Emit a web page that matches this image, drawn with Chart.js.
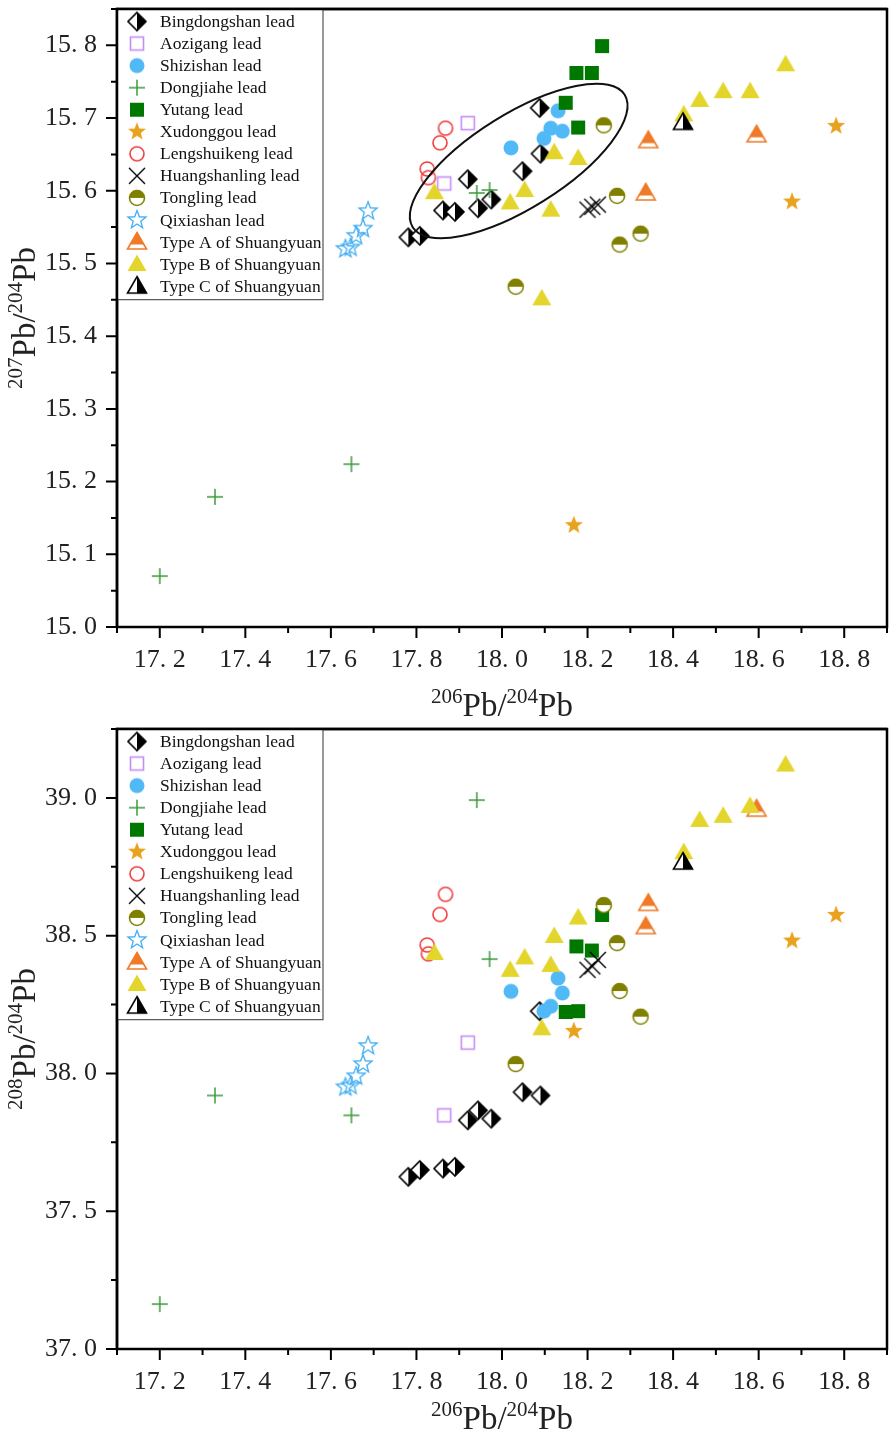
<!DOCTYPE html>
<html>
<head>
<meta charset="utf-8">
<title>Pb isotope diagrams</title>
<script src="https://cdn.jsdelivr.net/npm/chart.js@4/dist/chart.umd.min.js"></script>
<style>
    html, body { margin: 0; padding: 0; background: #fff; }
    .panel { position: absolute; left: 0; }
</style>
</head>
<body>
<div class="panel" style="top:0"><canvas id="chart207" width="896" height="720"></canvas></div>
<div class="panel" style="top:720px"><canvas id="chart208" width="896" height="724"></canvas></div>
<script>
// ---- data: 206Pb/204Pb, 207Pb/204Pb, 208Pb/204Pb for each deposit ----
const bingdongshan206 = [17.781, 17.808, 17.862, 17.890, 17.920, 17.944, 17.975, 18.048, 18.090, 18.088];
const bingdongshan207 = [15.536, 15.538, 15.573, 15.571, 15.616, 15.576, 15.588, 15.627, 15.651, 15.714];
const bingdongshan208 = [37.625, 37.650, 37.655, 37.661, 37.830, 37.866, 37.836, 37.932, 37.920, 38.226];

const aozigang206 = [17.920, 17.865];
const aozigang207 = [15.693, 15.610];
const aozigang208 = [38.112, 37.848];

const shizishan206 = [18.131, 18.141, 18.114, 18.098, 18.021];
const shizishan207 = [15.710, 15.682, 15.686, 15.672, 15.659];
const shizishan208 = [38.346, 38.292, 38.244, 38.226, 38.298];

const dongjiahe206 = [17.200, 17.329, 17.648, 17.941, 17.971];
const dongjiahe207 = [15.070, 15.179, 15.224, 15.597, 15.601];
const dongjiahe208 = [37.163, 37.920, 37.848, 38.992, 38.415];

const yutang206 = [18.234, 18.174, 18.210, 18.149, 18.178];
const yutang207 = [15.799, 15.762, 15.762, 15.721, 15.687];
const yutang208 = [38.575, 38.461, 38.446, 38.223, 38.226];

const xudonggou206 = [18.168, 18.781, 18.678];
const xudonggou207 = [15.140, 15.689, 15.585];
const xudonggou208 = [38.154, 38.575, 38.482];

const lengshuikeng206 = [17.868, 17.855, 17.825, 17.828];
const lengshuikeng207 = [15.686, 15.666, 15.630, 15.618];
const lengshuikeng208 = [38.650, 38.577, 38.466, 38.434];

const huangshanling206 = [18.200, 18.211, 18.224];
const huangshanling207 = [15.574, 15.578, 15.581];
const huangshanling208 = [38.376, 38.389, 38.412];

const tongling206 = [18.032, 18.238, 18.269, 18.275, 18.324];
const tongling207 = [15.468, 15.690, 15.593, 15.526, 15.541];
const tongling208 = [38.034, 38.611, 38.473, 38.299, 38.206];

const qixiashan206 = [17.687, 17.675, 17.659, 17.646, 17.634];
const qixiashan207 = [15.572, 15.548, 15.538, 15.522, 15.520];
const qixiashan208 = [38.100, 38.034, 37.990, 37.956, 37.950];

const typeA206 = [18.342, 18.336, 18.595];
const typeA207 = [15.669, 15.597, 15.677];
const typeA208 = [38.617, 38.533, 38.959];

const typeB206 = [17.842, 18.019, 18.053, 18.114, 18.122, 18.178, 18.093, 18.425, 18.462, 18.517, 18.580, 18.663];
const typeB207 = [15.598, 15.584, 15.601, 15.574, 15.653, 15.645, 15.452, 15.705, 15.725, 15.737, 15.737, 15.774];
const typeB208 = [38.437, 38.376, 38.421, 38.394, 38.499, 38.566, 38.164, 38.803, 38.920, 38.935, 38.971, 39.121];

const typeC206 = [18.423];
const typeC207 = [15.694];
const typeC208 = [38.767];

// axis ranges and tick labels
const xRange = [17.1, 18.9];
const xTickValues = [17.2, 17.4, 17.6, 17.8, 18.0, 18.2, 18.4, 18.6, 18.8];
const y207Range = [15.0, 15.85];
const y207TickValues = [15.0, 15.1, 15.2, 15.3, 15.4, 15.5, 15.6, 15.7, 15.8];
const y208Range = [37.0, 39.25];
const y208TickValues = [37.0, 37.5, 38.0, 38.5, 39.0];

// ---- marker images ----
function markerCanvas(draw) {
    const c = document.createElement('canvas');
    c.width = 26; c.height = 26;
    const g = c.getContext('2d');
    g.translate(13, 13);
    g.lineJoin = 'miter';
    draw(g);
    return c;
}

function starPath(g, R, r) {
    g.beginPath();
    for (let i = 0; i < 10; i++) {
        const a = -Math.PI / 2 + i * Math.PI / 5;
        const rad = i % 2 === 0 ? R : r;
        g.lineTo(Math.cos(a) * rad, Math.sin(a) * rad);
    }
    g.closePath();
}

function triPath(g) {
    g.beginPath();
    g.moveTo(0, -9.5);
    g.lineTo(9.5, 7);
    g.lineTo(-9.5, 7);
    g.closePath();
}

const markers = {
    halfDiamond: markerCanvas(g => {
        g.beginPath();
        g.moveTo(0, -9); g.lineTo(9, 0); g.lineTo(0, 9); g.lineTo(-9, 0); g.closePath();
        g.fillStyle = '#fff'; g.fill();
        g.save(); g.clip(); g.fillStyle = '#000'; g.fillRect(0, -10, 10, 20); g.restore();
        g.strokeStyle = '#000'; g.lineWidth = 1.6; g.stroke();
    }),
    openSquare: markerCanvas(g => {
        g.strokeStyle = '#c48cf8'; g.lineWidth = 1.6;
        g.strokeRect(-6.5, -6.5, 13, 13);
    }),
    dot: markerCanvas(g => {
        g.beginPath(); g.arc(0, 0, 7.5, 0, Math.PI * 2);
        g.fillStyle = '#50b9f6'; g.fill();
    }),
    plus: markerCanvas(g => {
        g.strokeStyle = '#3c9a3c'; g.lineWidth = 1.5;
        g.beginPath(); g.moveTo(-8, 0); g.lineTo(8, 0); g.moveTo(0, -8); g.lineTo(0, 8); g.stroke();
    }),
    square: markerCanvas(g => {
        g.fillStyle = '#007800';
        g.fillRect(-7, -7, 14, 14);
    }),
    star: markerCanvas(g => {
        starPath(g, 9.5, 4);
        g.fillStyle = '#e8a21e'; g.fill();
    }),
    openCircle: markerCanvas(g => {
        g.beginPath(); g.arc(0, 0, 7, 0, Math.PI * 2);
        g.strokeStyle = '#f03c3c'; g.lineWidth = 1.6; g.stroke();
    }),
    cross: markerCanvas(g => {
        g.strokeStyle = '#000'; g.lineWidth = 1.4;
        g.beginPath(); g.moveTo(-8, -8); g.lineTo(8, 8); g.moveTo(8, -8); g.lineTo(-8, 8); g.stroke();
    }),
    halfCircle: markerCanvas(g => {
        g.beginPath(); g.arc(0, 0, 7.5, 0, Math.PI * 2);
        g.fillStyle = '#fff'; g.fill();
        g.beginPath(); g.arc(0, 0, 7.5, Math.PI, 0); g.closePath();
        g.fillStyle = '#808000'; g.fill();
        g.beginPath(); g.arc(0, 0, 7.5, 0, Math.PI * 2);
        g.strokeStyle = '#808000'; g.lineWidth = 1.6; g.stroke();
    }),
    openStar: markerCanvas(g => {
        starPath(g, 9.5, 4);
        g.strokeStyle = '#42aef2'; g.lineWidth = 1.3; g.stroke();
    }),
    triA: markerCanvas(g => {
        triPath(g);
        g.fillStyle = '#fff'; g.fill();
        g.save(); g.clip(); g.fillStyle = '#f07a28'; g.fillRect(-10, -10, 20, 12.5); g.restore();
        triPath(g);
        g.strokeStyle = '#f07a28'; g.lineWidth = 1.6; g.stroke();
    }),
    triB: markerCanvas(g => {
        triPath(g);
        g.fillStyle = '#e3d52b'; g.fill();
    }),
    triC: markerCanvas(g => {
        triPath(g);
        g.fillStyle = '#fff'; g.fill();
        g.save(); g.clip(); g.fillStyle = '#000'; g.fillRect(0, -10, 10, 20); g.restore();
        triPath(g);
        g.strokeStyle = '#000'; g.lineWidth = 1.6; g.stroke();
    })
};

const groups = [
    { label: 'Bingdongshan lead', x: bingdongshan206, y207: bingdongshan207, y208: bingdongshan208, marker: 'halfDiamond' },
    { label: 'Aozigang lead', x: aozigang206, y207: aozigang207, y208: aozigang208, marker: 'openSquare' },
    { label: 'Shizishan lead', x: shizishan206, y207: shizishan207, y208: shizishan208, marker: 'dot' },
    { label: 'Dongjiahe lead', x: dongjiahe206, y207: dongjiahe207, y208: dongjiahe208, marker: 'plus' },
    { label: 'Yutang lead', x: yutang206, y207: yutang207, y208: yutang208, marker: 'square' },
    { label: 'Xudonggou lead', x: xudonggou206, y207: xudonggou207, y208: xudonggou208, marker: 'star' },
    { label: 'Lengshuikeng lead', x: lengshuikeng206, y207: lengshuikeng207, y208: lengshuikeng208, marker: 'openCircle' },
    { label: 'Huangshanling lead', x: huangshanling206, y207: huangshanling207, y208: huangshanling208, marker: 'cross' },
    { label: 'Tongling lead', x: tongling206, y207: tongling207, y208: tongling208, marker: 'halfCircle' },
    { label: 'Qixiashan lead', x: qixiashan206, y207: qixiashan207, y208: qixiashan208, marker: 'openStar' },
    { label: 'Type A of Shuangyuan', x: typeA206, y207: typeA207, y208: typeA208, marker: 'triA' },
    { label: 'Type B of Shuangyuan', x: typeB206, y207: typeB207, y208: typeB208, marker: 'triB' },
    { label: 'Type C of Shuangyuan', x: typeC206, y207: typeC207, y208: typeC208, marker: 'triC' }
];

const serif = '"Liberation Serif", "Times New Roman", serif';

// draws e.g. 206Pb/204Pb with raised small numbers, centred on (0,0)
function drawIsotopeLabel(ctx, top, bottom) {
    const parts = [
        { t: top, sup: true }, { t: 'Pb/', sup: false },
        { t: bottom, sup: true }, { t: 'Pb', sup: false }
    ];
    const big = 33, small = 21;
    let total = 0;
    parts.forEach(p => {
        ctx.font = (p.sup ? small : big) + 'px ' + serif;
        p.w = ctx.measureText(p.t).width;
        total += p.w;
    });
    let x = -total / 2;
    ctx.fillStyle = '#222';
    ctx.textAlign = 'left';
    ctx.textBaseline = 'alphabetic';
    parts.forEach(p => {
        ctx.font = (p.sup ? small : big) + 'px ' + serif;
        ctx.fillText(p.t, x, p.sup ? big * 0.33 - 13 : big * 0.33);
        x += p.w;
    });
}

// frame, major/minor ticks, axis titles, legend and the optional ellipse
const decorPlugin = {
    id: 'decor',
    afterDatasetsDraw(chart, args, opts) {
        const ctx = chart.ctx;
        const { left, right, top, bottom } = chart.chartArea;
        const xs = chart.scales.x, ys = chart.scales.y;
        ctx.save();

        // ellipse around the main cluster (top diagram only)
        if (opts.ellipse) {
            const e = opts.ellipse;
            ctx.beginPath();
            ctx.ellipse(xs.getPixelForValue(e.cx), ys.getPixelForValue(e.cy), e.rx, e.ry, e.angle * Math.PI / 180, 0, Math.PI * 2);
            ctx.strokeStyle = '#111';
            ctx.lineWidth = 2;
            ctx.stroke();
        }

        // frame
        ctx.strokeStyle = '#000';
        ctx.lineWidth = 2.5;
        ctx.strokeRect(left, top, right - left, bottom - top);

        // ticks
        function ticksFor(values, min, max) {
            const minor = [];
            const half = (values[1] - values[0]) / 2;
            minor.push(values[0] - half);
            values.forEach(v => minor.push(v + half));
            return minor.filter(v => v >= min - 1e-9 && v <= max + 1e-9);
        }
        ctx.lineWidth = 2;
        ctx.beginPath();
        opts.xTicks.forEach(v => {
            const px = xs.getPixelForValue(v);
            ctx.moveTo(px, bottom); ctx.lineTo(px, bottom + 11);
        });
        ticksFor(opts.xTicks, xs.min, xs.max).forEach(v => {
            const px = xs.getPixelForValue(v);
            ctx.moveTo(px, bottom); ctx.lineTo(px, bottom + 6);
        });
        opts.yTicks.forEach(v => {
            const py = ys.getPixelForValue(v);
            ctx.moveTo(left, py); ctx.lineTo(left - 11, py);
        });
        ticksFor(opts.yTicks, ys.min, ys.max).forEach(v => {
            const py = ys.getPixelForValue(v);
            ctx.moveTo(left, py); ctx.lineTo(left - 6, py);
        });
        ctx.stroke();

        // axis titles
        ctx.save();
        ctx.translate((left + right) / 2, opts.xTitleY);
        drawIsotopeLabel(ctx, '206', '204');
        ctx.restore();
        ctx.save();
        ctx.translate(opts.yTitleX, (top + bottom) / 2);
        ctx.rotate(-Math.PI / 2);
        drawIsotopeLabel(ctx, opts.yNum, '204');
        ctx.restore();

        // legend box
        const rowH = 22.05;
        const boxW = 206, boxH = groups.length * rowH + 4;
        const bx = left, by = top + opts.legendTop;
        ctx.fillStyle = '#fff';
        ctx.fillRect(bx, by, boxW, boxH);
        ctx.strokeStyle = '#555';
        ctx.lineWidth = 1.2;
        ctx.strokeRect(bx, by, boxW, boxH);
        ctx.font = '17.5px ' + serif;
        ctx.fillStyle = '#111';
        ctx.textAlign = 'left';
        ctx.textBaseline = 'middle';
        groups.forEach((g, i) => {
            const cy = by + 12.5 + i * rowH;
            const img = markers[g.marker];
            ctx.drawImage(img, bx + 20 - img.width / 2, cy - img.height / 2);
            ctx.fillText(g.label, bx + 43, cy + 1);
        });

        // redraw left axis line and top edge over the legend box
        ctx.strokeStyle = '#000';
        ctx.lineWidth = 2.5;
        ctx.beginPath();
        ctx.moveTo(left, bottom); ctx.lineTo(left, top); ctx.lineTo(right, top);
        ctx.stroke();

        ctx.restore();
    }
};

function tickText(v) {
    return v.toFixed(1).replace('.', '. ');
}

function buildChart(canvasId, yKey, yRange, yTickValues, layout) {
    const ctx = document.getElementById(canvasId).getContext('2d');
    const datasets = groups.map((g, i) => ({
        label: g.label,
        data: g.x.map((v, k) => ({ x: v, y: g[yKey][k] })),
        pointStyle: markers[g.marker],
        pointRadius: 8,
        pointHoverRadius: 8,
        order: groups.length - i
    }));
    return new Chart(ctx, {
        type: 'scatter',
        data: { datasets: datasets },
        options: {
            responsive: false,
            animation: false,
            events: [],
            layout: { padding: { top: layout.top, right: layout.right, left: 0, bottom: 0 } },
            plugins: {
                legend: { display: false },
                tooltip: { enabled: false },
                decor: {
                    xTicks: xTickValues,
                    yTicks: yTickValues,
                    xTitleY: layout.xTitleY,
                    yTitleX: 24,
                    yNum: layout.yNum,
                    legendTop: 0,
                    ellipse: layout.ellipse
                }
            },
            scales: {
                x: {
                    type: 'linear',
                    min: xRange[0],
                    max: xRange[1],
                    afterBuildTicks: s => { s.ticks = xTickValues.map(v => ({ value: v })); },
                    afterFit: s => { s.height = layout.xAxisH; s.paddingLeft = 0; s.paddingRight = 0; },
                    grid: { display: false, drawTicks: false },
                    border: { display: false },
                    ticks: {
                        callback: tickText,
                        autoSkip: false,
                        maxRotation: 0,
                        padding: 18,
                        color: '#222',
                        font: { family: serif, size: 26 }
                    }
                },
                y: {
                    type: 'linear',
                    min: yRange[0],
                    max: yRange[1],
                    afterBuildTicks: s => { s.ticks = yTickValues.map(v => ({ value: v })); },
                    afterFit: s => { s.width = 117; s.paddingTop = 0; s.paddingBottom = 0; },
                    grid: { display: false, drawTicks: false },
                    border: { display: false },
                    ticks: {
                        callback: tickText,
                        autoSkip: false,
                        padding: 20,
                        color: '#222',
                        font: { family: serif, size: 26 }
                    }
                }
            }
        },
        plugins: [decorPlugin]
    });
}

document.addEventListener('DOMContentLoaded', function() {
    buildChart('chart207', 'y207', y207Range, y207TickValues, {
        top: 4, right: 6, xAxisH: 93, xTitleY: 705, yNum: '207',
        ellipse: { cx: 18.039, cy: 15.641, rx: 125, ry: 47, angle: -32 }
    });
    buildChart('chart208', 'y208', y208Range, y208TickValues, {
        top: 3, right: 6, xAxisH: 95, xTitleY: 698, yNum: '208',
        ellipse: null
    });
});
</script>
</body>
</html>
